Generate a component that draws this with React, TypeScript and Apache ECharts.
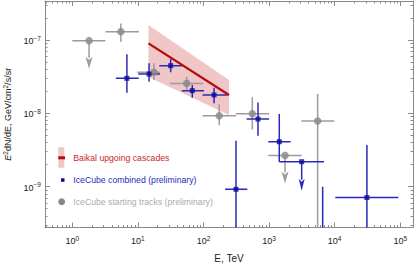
import React, { useEffect, useRef } from "react";
import * as echarts from "echarts";

// axis ranges in log10 units
const X_MIN = -0.416;
const X_MAX = 5.194;
const Y_MIN = -9.557;
const Y_MAX = -6.468;

const xTickExps = [0, 1, 2, 3, 4, 5];
const yTickExps = [-9, -8, -7];

// IceCube starting tracks (preliminary): E [TeV], flux [GeV/cm2/s/sr]
const trkE = [1.8, 5.5, 17.6, 55.5, 174, 555, 1750, 5500];
const trkELo = [1.0, 3.2, 9.8, 30.8, 97, 310, 970, 3100];
const trkEHi = [3.2, 10.4, 21.7, 99, 313, 1000, 3140, 9860];
const trkF = [9.8e-8, 1.3e-7, 3.62e-8, 2.56e-8, 9.27e-9, 9.9e-9, 2.67e-9, 7.85e-9];
const trkFLo = [null, 9.5e-8, 2.84e-8, 2.09e-8, 6.9e-9, 6.0e-9, null, 1e-10];
const trkFHi = [null, 1.68e-7, 4.81e-8, 3.16e-8, 1.33e-8, 1.66e-8, null, 1.83e-8];
const trkUL = [true, false, false, false, false, false, true, false];

// IceCube combined (preliminary)
const icE = [6.8, 14.8, 31.6, 67.5, 145, 678, 313, 1430, 3140, 6560, 31000];
const icELo = [4.6, 10.1, 21.2, 46.6, 97, 455, 213, 973, 1430, 6560, 10200];
const icEHi = [10.3, 21.7, 47.5, 102, 231, 1000, 466, 2130, 6870, 6560, 93300];
const icF = [3.0e-8, 3.44e-8, 4.47e-8, 2.04e-8, 1.78e-8, 8.36e-9, 9.2e-10, 4.1e-9, 2.19e-9, 1e-10, 7.1e-10];
const icFLo = [1.91e-8, 2.7e-8, 3.63e-8, 1.63e-8, 1.37e-8, 4.94e-9, 1e-10, 2.19e-9, null, 1e-10, 1e-10];
const icFHi = [6.38e-8, 4.81e-8, 5.46e-8, 2.43e-8, 2.24e-8, 1.41e-8, 4.23e-9, 9.77e-9, null, 1.0e-9, 3.7e-9];
const icUL = [false, false, false, false, false, false, false, false, true, false, false];

// Baikal upgoing cascades
const baikalE = [14.5, 245];
const baikalF = [9.0e-8, 1.78e-8];
const baikalFLo = [3.13e-8, 9.5e-9];
const baikalFHi = [1.6e-7, 2.84e-8];

const FONT = "'Liberation Sans', Arial, sans-serif";
const AXIS_COLOR = "#8a8a8a";
const lg = Math.log10;

function minorTicks(lo: number, hi: number) {
  const out: number[] = [];
  for (let n = Math.floor(lo) - 1; n <= Math.ceil(hi); n++) {
    for (let k = 2; k <= 9; k++) {
      const v = n + Math.log10(k);
      if (v > lo && v < hi) out.push(v);
    }
  }
  return out;
}

function errRows(E: number[], ELo: number[], EHi: number[], F: number[], FLo: any[], FHi: any[], UL: boolean[]) {
  return E.map((e, i) => [
    lg(e), lg(ELo[i]), lg(EHi[i]), lg(F[i]),
    lg(FLo[i] ?? F[i]), lg(FHi[i] ?? F[i]), UL[i] ? 1 : 0,
  ]);
}

function errRenderer(color: string, lw: number, headW: number, headH: number, arrowLen: number) {
  return (params: any, api: any) => {
    const x = api.value(0), xlo = api.value(1), xhi = api.value(2);
    const y = api.value(3), ylo = api.value(4), yhi = api.value(5), ul = api.value(6);
    const c = api.coord([x, y]);
    const style = { stroke: color, lineWidth: lw };
    const children: any[] = [];
    if (xhi > xlo) {
      const a = api.coord([xlo, y]);
      const b = api.coord([xhi, y]);
      children.push({ type: "line", shape: { x1: a[0], y1: c[1], x2: b[0], y2: c[1] }, style });
    }
    if (yhi > ylo) {
      const a = api.coord([x, ylo]);
      const b = api.coord([x, yhi]);
      children.push({ type: "line", shape: { x1: c[0], y1: a[1], x2: c[0], y2: b[1] }, style });
    }
    if (ul) {
      const tip = c[1] + arrowLen;
      children.push({ type: "line", shape: { x1: c[0], y1: c[1], x2: c[0], y2: tip - headH + 1 }, style });
      children.push({
        type: "polygon",
        shape: { points: [[c[0] - headW / 2, tip - headH], [c[0], tip - headH + 3], [c[0] + headW / 2, tip - headH], [c[0], tip]] },
        style: { fill: color },
      });
    }
    return { type: "group", children };
  };
}

const labelRich = {
  b: { fontSize: 9, fontFamily: FONT, color: "#222", verticalAlign: "bottom" },
  sup: { fontSize: 6.5, fontFamily: FONT, color: "#222", verticalAlign: "bottom", padding: [0, 0, 4, 0] },
};

function axisPair(dim: "x" | "y", pos: string, min: number, max: number, majors: number[], withLabels: boolean, fmt: (v: number) => string) {
  const common = { type: "value", position: pos, min, max, splitLine: { show: false } };
  return [
    {
      ...common,
      axisLine: { show: true, onZero: false, lineStyle: { color: AXIS_COLOR, width: 1 } },
      axisTick: { show: true, inside: true, length: 5, customValues: majors, lineStyle: { color: AXIS_COLOR } },
      axisLabel: withLabels
        ? { show: true, customValues: majors, formatter: fmt, rich: labelRich, margin: dim === "x" ? 7 : 4 }
        : { show: false },
    },
    {
      ...common,
      axisLine: { show: false, onZero: false },
      axisTick: { show: true, inside: true, length: 2.5, customValues: minorTicks(min, max), lineStyle: { color: AXIS_COLOR } },
      axisLabel: { show: false },
    },
  ];
}

export default function App() {
  const ref = useRef<HTMLDivElement>(null);
  useEffect(() => {
    if (!ref.current) return;
    const chart = echarts.init(ref.current, null, { renderer: "svg" });
    const xfmt = (v: number) => `{b|10}{sup|${Math.round(v)}}`;
    const yfmt = (v: number) => `{b|10}{sup|−${Math.abs(Math.round(v))}}`;

    const xAxes = [
      ...axisPair("x", "bottom", X_MIN, X_MAX, xTickExps, true, xfmt),
      ...axisPair("x", "top", X_MIN, X_MAX, xTickExps, false, xfmt),
    ];
    (xAxes[0] as any).name = "E, TeV";
    (xAxes[0] as any).nameLocation = "middle";
    (xAxes[0] as any).nameGap = 26;
    (xAxes[0] as any).nameTextStyle = { fontSize: 10, fontFamily: FONT, color: "#222" };

    const yAxes = [
      ...axisPair("y", "left", Y_MIN, Y_MAX, yTickExps, true, yfmt),
      ...axisPair("y", "right", Y_MIN, Y_MAX, yTickExps, false, yfmt),
    ];
    (yAxes[0] as any).name = "{i|E}{sup|2}{n|dN/dE, GeV/cm}{sup|2}{n|/s/sr}";
    (yAxes[0] as any).nameLocation = "middle";
    (yAxes[0] as any).nameGap = 15;
    (yAxes[0] as any).nameRotate = 90;
    (yAxes[0] as any).nameTextStyle = {
      fontSize: 9, fontFamily: FONT, color: "#222",
      rich: {
        i: { fontSize: 9, fontFamily: FONT, fontStyle: "italic", color: "#222", verticalAlign: "bottom" },
        n: { fontSize: 9, fontFamily: FONT, color: "#222", verticalAlign: "bottom" },
        sup: { fontSize: 6.5, fontFamily: FONT, color: "#222", verticalAlign: "bottom", padding: [0, 0, 4, 0] },
      },
    };

    const bandData = baikalE.map((e, i) => [lg(e), lg(baikalFLo[i]), lg(baikalFHi[i])]);

    chart.setOption({
      animation: false,
      grid: { left: 45, right: 2, top: 1, bottom: 37.5, containLabel: false, outerBoundsMode: "none" },
      xAxis: xAxes,
      yAxis: yAxes,
      series: [
        {
          type: "custom",
          clip: true,
          encode: { x: 0, y: [1, 2] },
          data: bandData,
          renderItem: (params: any, api: any) => {
            if (params.dataIndex !== 0) return null;
            const n = params.dataInsideLength;
            const upper: number[][] = [];
            const lower: number[][] = [];
            for (let i = 0; i < n; i++) {
              upper.push(api.coord([api.value(0, i), api.value(2, i)]));
              lower.push(api.coord([api.value(0, i), api.value(1, i)]));
            }
            return { type: "polygon", shape: { points: upper.concat(lower.reverse()) }, style: { fill: "#f0c6c6" } };
          },
        },
        {
          type: "custom",
          clip: true,
          encode: { x: [0, 1, 2], y: [3, 4, 5] },
          data: errRows(trkE, trkELo, trkEHi, trkF, trkFLo, trkFHi, trkUL),
          renderItem: errRenderer("#9c9c9c", 1.5, 7, 12, 28),
        },
        {
          type: "scatter",
          symbol: "circle",
          symbolSize: 7.5,
          itemStyle: { color: "#888888" },
          data: trkE.map((e, i) => [lg(e), lg(trkF[i])]),
        },
        {
          type: "line",
          symbol: "none",
          lineStyle: { color: "#b40c0c", width: 2.2 },
          data: baikalE.map((e, i) => [lg(e), lg(baikalF[i])]),
        },
        {
          type: "custom",
          clip: true,
          encode: { x: [0, 1, 2], y: [3, 4, 5] },
          data: errRows(icE, icELo, icEHi, icF, icFLo, icFHi, icUL),
          renderItem: errRenderer("#2a2ab6", 1.5, 6, 12, 29),
        },
        {
          type: "scatter",
          symbol: "rect",
          symbolSize: 5,
          itemStyle: { color: "#0a0a9a" },
          data: icE.map((e, i) => [lg(e), lg(icF[i])]),
        },
      ],
      graphic: [
        { type: "rect", shape: { x: 58.3, y: 147.3, width: 6, height: 20.4 }, style: { fill: "#f0c6c6" } },
        { type: "rect", shape: { x: 58.3, y: 156.3, width: 6.7, height: 3 }, style: { fill: "#b40c0c" } },
        { type: "text", x: 73.3, y: 157.8, style: { text: "Baikal upgoing cascades", fill: "#c42a2a", font: `8.7px ${FONT}`, textVerticalAlign: "middle" } },
        { type: "rect", shape: { x: 61, y: 178.3, width: 3.5, height: 3.5 }, style: { fill: "#0a0a9a" } },
        { type: "text", x: 73.3, y: 180, style: { text: "IceCube combined (preliminary)", fill: "#2a2abf", font: `8.7px ${FONT}`, textVerticalAlign: "middle" } },
        { type: "circle", shape: { cx: 61.7, cy: 201.7, r: 3.4 }, style: { fill: "#888888" } },
        { type: "text", x: 73.3, y: 201.7, style: { text: "IceCube starting tracks (preliminary)", fill: "#ababab", font: `8.7px ${FONT}`, textVerticalAlign: "middle" } },
      ],
    });
    return () => chart.dispose();
  }, []);
  return <div ref={ref} style={{ position: "absolute", left: 0, top: 0, width: 415, height: 265 }} />;
}
